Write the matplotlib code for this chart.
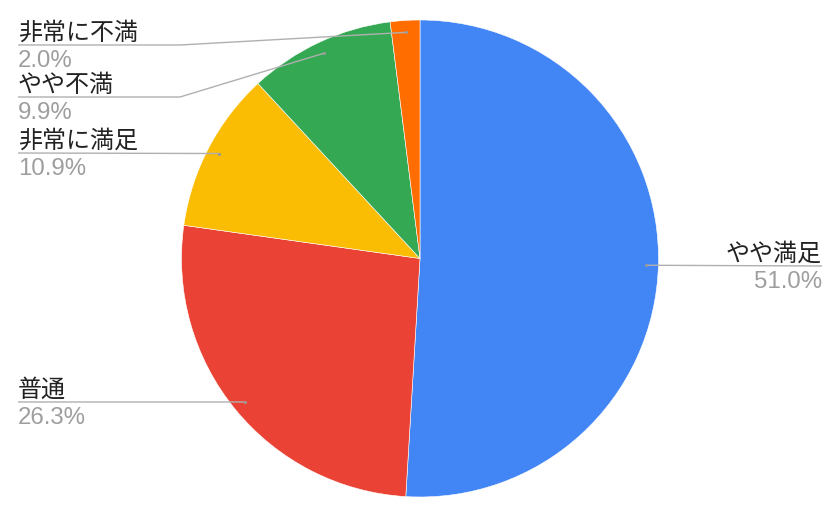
import numpy as np
import matplotlib
matplotlib.use("Agg")
import matplotlib.pyplot as plt

# Data (clockwise from 12 o'clock)
categories = ["やや満足", "普通", "非常に満足", "やや不満", "非常に不満"]
values = [51.0, 26.3, 10.9, 9.9, 2.0]
pct_labels = ["51.0%", "26.3%", "10.9%", "9.9%", "2.0%"]
colors = ["#4285F4", "#EA4335", "#FBBC04", "#34A853", "#FF6D01"]

W, H = 840, 510
fig = plt.figure(figsize=(W / 100, H / 100), dpi=100)
ax = fig.add_axes([0, 0, 1, 1])

cx, cy_img, r = 420, 259.5, 238.5
cy = H - cy_img
wedges, _ = ax.pie(values, colors=colors, startangle=90, counterclock=False,
                   center=(cx, cy), radius=r,
                   wedgeprops=dict(edgecolor="white", linewidth=0.4))
ax.set_xlim(0, W)
ax.set_ylim(0, H)
ax.set_aspect("equal")
ax.axis("off")

# label layout: (side, line y in image px, knee x or None)
layout = {
    "やや満足": ("right", 267, None),
    "普通": ("left", 403, None),
    "非常に満足": ("left", 154, None),
    "やや不満": ("left", 98, 180),
    "非常に不満": ("left", 46, 180),
}

jp = ["Noto Sans CJK JP", "DejaVu Sans"]
num = ["Liberation Sans", "DejaVu Sans"]
line_col = "#b0b0b0"
fs = 17.3

for w, cat, pct in zip(wedges, categories, pct_labels):
    mid = np.deg2rad((w.theta1 + w.theta2) / 2)
    ax_x = cx + 0.95 * r * np.cos(mid)
    ax_y = cy + 0.95 * r * np.sin(mid)
    side, ly_img, knee = layout[cat]
    ly = H - ly_img
    if side == "left":
        x0 = 18
        xs = [x0]
        ys = [ly]
        if knee is not None:
            xs.append(knee)
            ys.append(ly)
        xs.append(ax_x)
        ys.append(ax_y)
        ha = "left"
        tx = x0
    else:
        x1 = 822
        xs = [ax_x, x1]
        ys = [ax_y, ly]
        ha = "right"
        tx = x1
    ax.plot(xs, ys, color=line_col, lw=1.0, solid_capstyle="butt", zorder=3)
    ax.plot([ax_x], [ax_y], marker="o", ms=2.2, color="#9a9a9a",
            mec="none", zorder=4)
    ax.text(tx, ly + 6.5, cat, ha=ha, va="baseline", fontsize=fs,
            family=jp, color="#222222")
    ax.text(tx, ly - 4, pct, ha=ha, va="top", fontsize=fs,
            family=num, color="#9e9e9e")

fig.savefig("out.png", dpi=100, facecolor="white")
